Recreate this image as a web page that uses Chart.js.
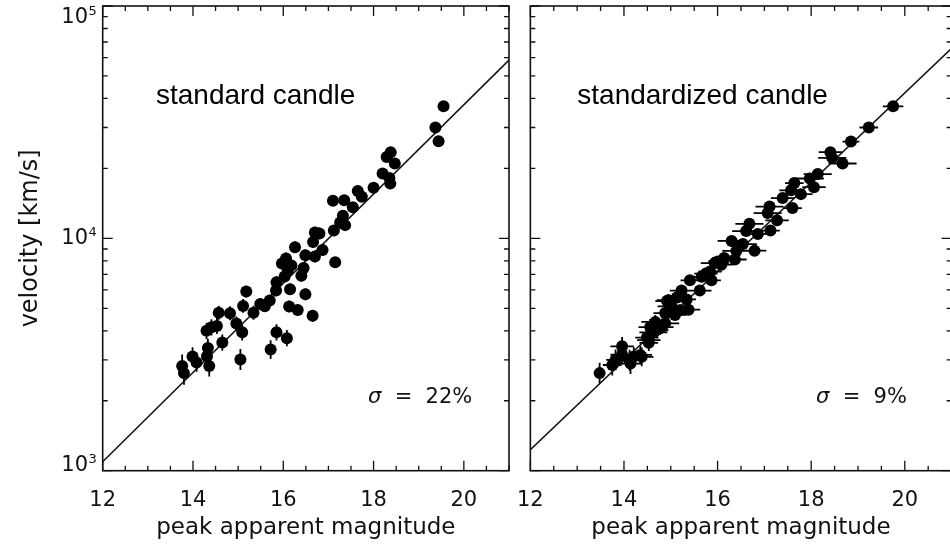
<!DOCTYPE html>
<html>
<head>
<meta charset="utf-8">
<script src="https://cdn.jsdelivr.net/npm/chart.js@4/dist/chart.umd.min.js"></script>
<style>
  html, body { margin: 0; padding: 0; background: #fff; width: 950px; height: 544px; overflow: hidden; }
  #panelA { position: absolute; left: 0; top: 0; }
  #panelB { position: absolute; left: 500px; top: 0; }
</style>
</head>
<body>
<canvas id="panelA" width="515" height="544"></canvas>
<canvas id="panelB" width="460" height="544"></canvas>
<script>
// ---- axis ranges and tick labels ----
const magMin = 12, magMax = 21;
const velMin = 1e3, velMax = 1e5;
const magTickStep = 2;          // labelled ticks: 12, 14, 16, 18, 20
const magMinorStep = 0.5;
const velDecades = [1e3, 1e4, 1e5];
const velDecadeExp = ['3', '4', '5'];

// ---- standard candle: peak magnitude, velocity [km/s], velocity error [dex] ----
const candleMag = [19.55,19.37,19.44,18.38,18.29,18.47,18.20,18.35,18.37,18.00,
                   17.65,17.74,17.54,17.35,17.10,17.32,17.26,17.37,17.12,17.15,
                   16.70,16.80,16.66,16.87,16.70,16.49,16.26,16.45,16.40,16.06,
                   15.97,16.18,16.10,16.03,15.85,15.84,16.15,16.49,16.13,16.32,
                   16.65,15.70,15.59,15.49,15.34,15.18,15.11,14.82,14.96,15.09,
                   14.57,14.53,14.41,14.30,14.65,14.33,14.31,14.36,14.08,13.99,
                   13.76,13.80,15.05,15.72,15.85,16.08];
const candleVel = [37000,30000,26200,23500,22400,21000,19000,18200,17200,16500,
                   16000,15100,13600,14600,14500,12500,11700,11400,10800,7900,
                   10600,10500,9650,8900,8350,8450,9150,7450,6900,8200,
                   7800,7650,7250,6850,6480,5970,6040,5740,5090,4920,
                   4640,5400,5100,5220,4780,5900,5120,4760,4300,3940,
                   4780,4200,4140,4000,3560,3370,3110,2820,2920,3100,
                   2820,2630,3010,3320,3940,3720];
const candleVelErr = [0.02,0.02,0.02,0.02,0.02,0.02,0.02,0.02,0.02,0.02,
                      0.02,0.02,0.02,0.02,0.02,0.02,0.02,0.02,0.02,0.02,
                      0.025,0.025,0.025,0.025,0.025,0.025,0.025,0.025,0.025,0.025,
                      0.025,0.025,0.025,0.025,0.025,0.025,0.025,0.025,0.025,0.025,
                      0.025,0.025,0.025,0.025,0.03,0.025,0.03,0.03,0.03,0.035,
                      0.03,0.035,0.035,0.035,0.035,0.04,0.04,0.045,0.04,0.04,
                      0.05,0.05,0.045,0.04,0.035,0.035];

// ---- standardized candle: corrected magnitude, velocity, errors ----
const stdMag = [19.75,19.23,18.85,18.41,18.45,18.67,18.14,17.97,18.06,17.64,
                17.57,17.78,17.39,17.60,17.11,17.07,17.27,16.68,16.61,16.86,
                17.13,16.30,16.54,16.79,16.40,16.37,16.14,16.08,15.94,15.84,
                15.87,15.66,15.41,15.62,15.23,15.34,15.13,15.38,14.92,15.02,
                14.88,15.09,14.67,14.81,14.56,14.63,14.49,14.53,14.35,14.21,
                14.14,13.96,13.96,13.82,13.75,13.48,14.12,14.38,14.70,14.95,
                15.20,16.00,15.75,14.53,14.88,15.16];
const stdVel = [37000,30000,26100,23500,22200,21000,18900,18100,16600,17300,
                16100,15500,14900,13500,13700,12850,11950,11550,10750,10450,
                10800,9750,9450,8850,8830,8110,8240,7700,7830,7200,
                6600,6830,6600,5960,5960,5460,5560,4930,5370,5100,
                4770,4680,4370,4150,4150,3940,3740,3550,3150,3100,
                2890,3430,3160,3000,2850,2630,2990,3090,4030,5420,
                4910,7950,7050,3650,4310,5610];
const stdMagErr = [0.22,0.2,0.18,0.25,0.3,0.3,0.3,0.3,0.25,0.2,
                   0.25,0.25,0.25,0.2,0.3,0.3,0.25,0.3,0.3,0.25,
                   0.2,0.3,0.3,0.25,0.3,0.25,0.25,0.25,0.3,0.25,
                   0.2,0.25,0.2,0.25,0.25,0.2,0.3,0.25,0.25,0.3,
                   0.25,0.25,0.3,0.25,0.25,0.3,0.25,0.2,0.25,0.3,
                   0.25,0.25,0.25,0.2,0.2,0.1,0.25,0.25,0.25,0.25,
                   0.25,0.2,0.25,0.25,0.3,0.25];
const stdVelErr = [0.02,0.02,0.02,0.02,0.02,0.02,0.02,0.02,0.02,0.02,
                   0.02,0.02,0.02,0.02,0.02,0.02,0.02,0.02,0.02,0.02,
                   0.02,0.02,0.02,0.02,0.02,0.02,0.02,0.02,0.02,0.02,
                   0.02,0.02,0.02,0.02,0.02,0.02,0.02,0.02,0.02,0.02,
                   0.02,0.02,0.03,0.03,0.035,0.03,0.035,0.035,0.04,0.04,
                   0.045,0.04,0.04,0.045,0.045,0.045,0.045,0.04,0.03,0.025,
                   0.025,0.02,0.02,0.035,0.03,0.025];

// ---- Hubble-line fits (end points) ----
const fitMag = [12, 21];
const fitVelCandle = [1093, 58500];
const fitVelStd = [1230, 65700];

const sigmaCandle = '22%';
const sigmaStd = '9%';

const INK = '#111';
const AXIS_FONT = 'DejaVu Sans';

function toPoints(xs, ys) { return xs.map((x, i) => ({ x: x, y: ys[i] })); }

// Inward major/minor ticks on all four sides plus the box frame
const framePlugin = {
  id: 'frame',
  afterDatasetsDraw(chart) {
    const { ctx, chartArea: a, scales: { x, y } } = chart;
    ctx.save();
    ctx.strokeStyle = INK;
    ctx.lineWidth = 1.6;
    ctx.strokeRect(a.left, a.top, a.right - a.left, a.bottom - a.top);
    ctx.lineWidth = 1.3;
    ctx.beginPath();
    for (let m = magMin; m <= magMax + 1e-9; m += magMinorStep) {
      const px = x.getPixelForValue(m);
      const len = (Math.abs(m % magTickStep) < 1e-9) ? 10 : 5;
      ctx.moveTo(px, a.bottom); ctx.lineTo(px, a.bottom - len);
      ctx.moveTo(px, a.top); ctx.lineTo(px, a.top + len);
    }
    for (let k = 3; k <= 5; k++) {
      for (let d = 1; d <= 9; d++) {
        const v = d * Math.pow(10, k);
        if (v > velMax) break;
        const py = y.getPixelForValue(v);
        const len = d === 1 ? 10 : 5;
        ctx.moveTo(a.left, py); ctx.lineTo(a.left + len, py);
        ctx.moveTo(a.right, py); ctx.lineTo(a.right - len, py);
      }
    }
    ctx.stroke();
    ctx.restore();
  }
};

// Error bars, drawn through the chart's scales
const errorBarPlugin = {
  id: 'errorBars',
  beforeDatasetsDraw(chart, args, opts) {
    const { ctx, scales: { x, y } } = chart;
    ctx.save();
    ctx.strokeStyle = '#000';
    ctx.lineWidth = 1.8;
    ctx.beginPath();
    opts.mag.forEach((m, i) => {
      const v = opts.vel[i];
      const px = x.getPixelForValue(m);
      const py = y.getPixelForValue(v);
      const ev = opts.velErr ? opts.velErr[i] : 0;
      if (ev) {
        ctx.moveTo(px, y.getPixelForValue(v * Math.pow(10, -ev)));
        ctx.lineTo(px, y.getPixelForValue(v * Math.pow(10, ev)));
      }
      const em = opts.magErr ? opts.magErr[i] : 0;
      if (em) {
        ctx.moveTo(x.getPixelForValue(m - em), py);
        ctx.lineTo(x.getPixelForValue(m + em), py);
      }
    });
    ctx.stroke();
    ctx.restore();
  }
};

// Panel captions, scatter figure and decade labels
const textPlugin = {
  id: 'panelText',
  afterDraw(chart, args, opts) {
    const { ctx, chartArea: a, scales: { y } } = chart;
    ctx.save();
    ctx.fillStyle = '#000';
    ctx.textBaseline = 'alphabetic';
    ctx.textAlign = 'left';
    ctx.font = '28px "Liberation Sans", Arial, sans-serif';
    ctx.fillText(opts.caption, opts.captionX, 104);

    ctx.fillStyle = INK;
    ctx.font = 'italic 21px "' + AXIS_FONT + '"';
    ctx.fillText('\u03c3', opts.sigmaX, 403);
    const w = ctx.measureText('\u03c3').width;
    ctx.font = '21px "' + AXIS_FONT + '"';
    ctx.fillText('  =  ' + opts.sigma, opts.sigmaX + w, 403);

    if (opts.decadeLabels) {
      velDecades.forEach((v, i) => {
        let py = y.getPixelForValue(v);
        py = Math.min(Math.max(py, a.top + 12), a.bottom - 5);
        ctx.font = '21px "' + AXIS_FONT + '"';
        ctx.textAlign = 'right';
        ctx.textBaseline = 'middle';
        ctx.fillText('10', 88, py);
        ctx.font = '13px "' + AXIS_FONT + '"';
        ctx.textAlign = 'left';
        ctx.fillText(velDecadeExp[i], 88.5, py - 6);
      });
    }
    ctx.restore();
  }
};

function panelConfig(p) {
  return {
    type: 'scatter',
    data: {
      datasets: [
        {
          type: 'line',
          data: toPoints(fitMag, p.fitVel),
          borderColor: INK,
          borderWidth: 1.5,
          pointRadius: 0,
          fill: false,
          order: 2
        },
        {
          data: toPoints(p.mag, p.vel),
          backgroundColor: '#000',
          borderColor: '#000',
          borderWidth: 0,
          pointRadius: 6,
          order: 1
        }
      ]
    },
    options: {
      responsive: false,
      animation: false,
      devicePixelRatio: 1,
      layout: { padding: { left: p.padLeft, right: p.padRight, top: 6, bottom: 0 } },
      plugins: {
        legend: { display: false },
        tooltip: { enabled: false },
        errorBars: { mag: p.mag, vel: p.vel, velErr: p.velErr, magErr: p.magErr },
        panelText: p.text
      },
      scales: {
        x: {
          type: 'linear',
          min: magMin,
          max: magMax,
          afterFit(s) { s.height = 73.3; },
          grid: { display: false, drawTicks: false },
          border: { display: false },
          ticks: {
            stepSize: magTickStep,
            includeBounds: false,
            autoSkip: false,
            maxRotation: 0,
            padding: 17,
            color: INK,
            font: { family: AXIS_FONT, size: 21 }
          },
          title: {
            display: true,
            text: 'peak apparent magnitude',
            color: INK,
            font: { family: AXIS_FONT, size: 23 },
            padding: { top: 0, bottom: 2 }
          }
        },
        y: {
          type: 'logarithmic',
          min: velMin,
          max: velMax,
          display: p.showY,
          afterFit(s) { s.width = p.yWidth; },
          grid: { display: false, drawTicks: false },
          border: { display: false },
          ticks: { display: false },
          title: {
            display: p.showY,
            text: 'velocity [km/s]',
            color: INK,
            font: { family: AXIS_FONT, size: 24 },
            padding: { top: 16, bottom: 0 }
          }
        }
      }
    },
    plugins: [errorBarPlugin, framePlugin, textPlugin]
  };
}

new Chart(document.getElementById('panelA'), panelConfig({
  mag: candleMag, vel: candleVel, velErr: candleVelErr, magErr: null,
  fitVel: fitVelCandle,
  padLeft: 0, padRight: 6, yWidth: 102.7, showY: true,
  text: { caption: 'standard candle', captionX: 156, sigma: sigmaCandle, sigmaX: 368, decadeLabels: true }
}));

new Chart(document.getElementById('panelB'), panelConfig({
  mag: stdMag, vel: stdVel, velErr: stdVelErr, magErr: stdMagErr,
  fitVel: fitVelStd,
  padLeft: 27.7, padRight: 8.4, yWidth: 0, showY: false,
  text: { caption: 'standardized candle', captionX: 77.3, sigma: sigmaStd, sigmaX: 316, decadeLabels: false }
}));
</script>
</body>
</html>
